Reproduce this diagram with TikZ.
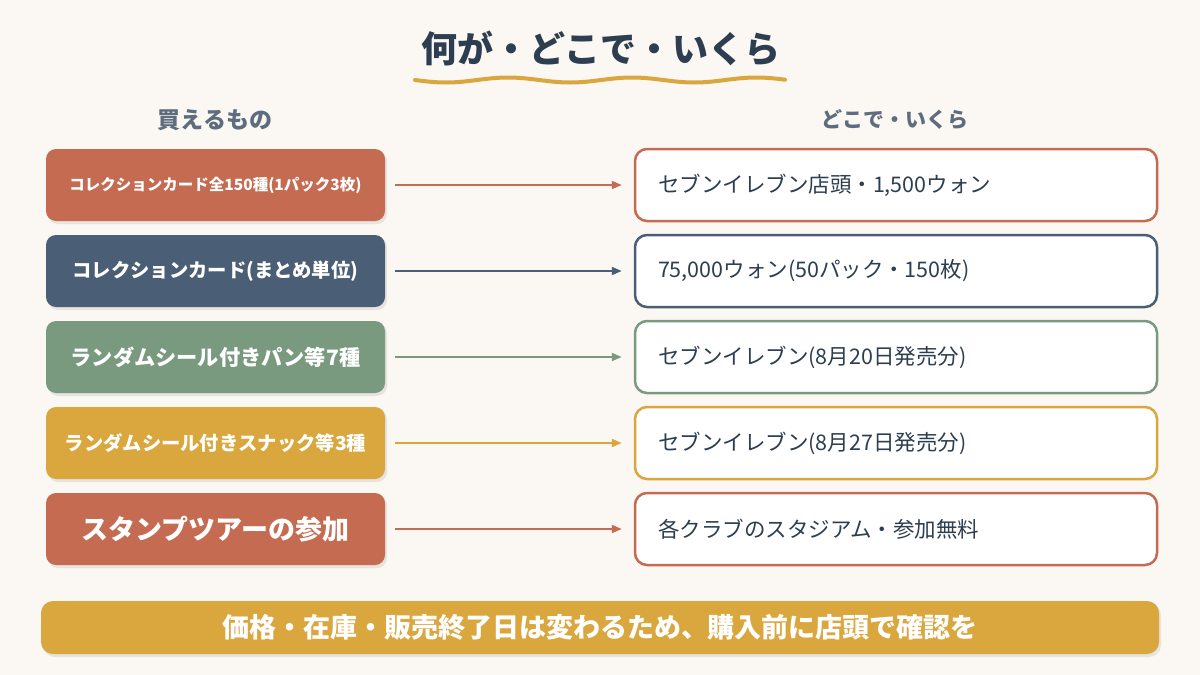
\documentclass[tikz,border=0pt]{standalone}
\usepackage{fontspec}
\setmainfont{Noto Sans CJK JP}
\usetikzlibrary{arrows.meta}
\definecolor{bg}{HTML}{FBF7F3}
\definecolor{terra}{HTML}{C56B52}
\definecolor{navy}{HTML}{4A5E75}
\definecolor{sage}{HTML}{7A9A80}
\definecolor{gold}{HTML}{DAA63E}
\definecolor{ink}{HTML}{2C3E50}
\definecolor{head}{HTML}{5D6D7E}
\tikzset{
  lbox/.style={fill=#1, rounded corners=10pt, minimum width=339pt, minimum height=72pt,
    inner sep=0pt, text=white, font=\bfseries},
  rbox/.style={draw=#1, line width=2.5pt, fill=white, rounded corners=12pt,
    text width=476pt, inner xsep=23pt, minimum height=72pt, align=left, text=ink,
    font=\fontsize{21.5}{25}\selectfont},
  conn/.style={draw=#1, line width=2pt, -{Triangle[length=10pt,width=8pt]},
    shorten <=10pt, shorten >=12pt},
  shadowbox/.style={fill=black, opacity=0.08, rounded corners=10pt},
  hdr/.style={text=head, font=\bfseries\fontsize{23}{27}\selectfont},
}
\begin{document}
\begin{tikzpicture}[x=1pt,y=-1pt]
\useasboundingbox (0,0) rectangle (1200,675);
\fill[bg] (0,0) rectangle (1200,675);
% title
\node[text=ink, font=\bfseries\fontsize{36}{40}\selectfont] (title) at (601,48) {何が・どこで・いくら};
\draw[gold, line width=4pt, line cap=round] plot[domain=415:785, samples=120, smooth] (\x, {80 + 2.5*sin((\x-415)*2.9)});
% headers
\node[hdr] (h1) at (215,120) {買えるもの};
\node[hdr, font=\bfseries\fontsize{21}{25}\selectfont] (h2) at (895,120) {どこで・いくら};
% shadows
\foreach \y in {185,271,357,443,529}{
  \fill[shadowbox] (48,\y-34) rectangle (387,\y+39);
}
% left boxes
\node[lbox=terra, font=\bfseries\fontsize{15.5}{18}\selectfont] (L1) at (215.5,185) {コレクションカード全150種(1パック3枚)};
\node[lbox=navy, font=\bfseries\fontsize{19.3}{22}\selectfont] (L2) at (215.5,271) {コレクションカード(まとめ単位)};
\node[lbox=sage, font=\bfseries\fontsize{21.2}{24}\selectfont] (L3) at (215.5,357) {ランダムシール付きパン等7種};
\node[lbox=gold, font=\bfseries\fontsize{19.3}{22}\selectfont] (L4) at (215.5,443) {ランダムシール付きスナック等3種};
\node[lbox=terra, font=\bfseries\fontsize{27}{31}\selectfont] (L5) at (215.5,529) {スタンプツアーの参加};
% right boxes
\node[rbox=terra] (R1) at (896,185) {セブンイレブン店頭・1,500ウォン};
\node[rbox=navy] (R2) at (896,271) {75,000ウォン(50パック・150枚)};
\node[rbox=sage] (R3) at (896,357) {セブンイレブン(8月20日発売分)};
\node[rbox=gold] (R4) at (896,443) {セブンイレブン(8月27日発売分)};
\node[rbox=terra] (R5) at (896,529) {各クラブのスタジアム・参加無料};
% connectors
\draw[conn=terra] (L1.east) -- (R1.west);
\draw[conn=navy] (L2.east) -- (R2.west);
\draw[conn=sage] (L3.east) -- (R3.west);
\draw[conn=gold] (L4.east) -- (R4.west);
\draw[conn=terra] (L5.east) -- (R5.west);
% banner
\fill[black, opacity=0.08, rounded corners=12pt] (43,603) rectangle (1161,657);
\node[fill=gold, rounded corners=12pt, minimum width=1118pt, minimum height=53pt, inner sep=0pt,
  text=white, font=\bfseries\fontsize{27}{31}\selectfont] (B) at (600,627.5) {価格・在庫・販売終了日は変わるため、購入前に店頭で確認を};
\end{tikzpicture}
\end{document}
